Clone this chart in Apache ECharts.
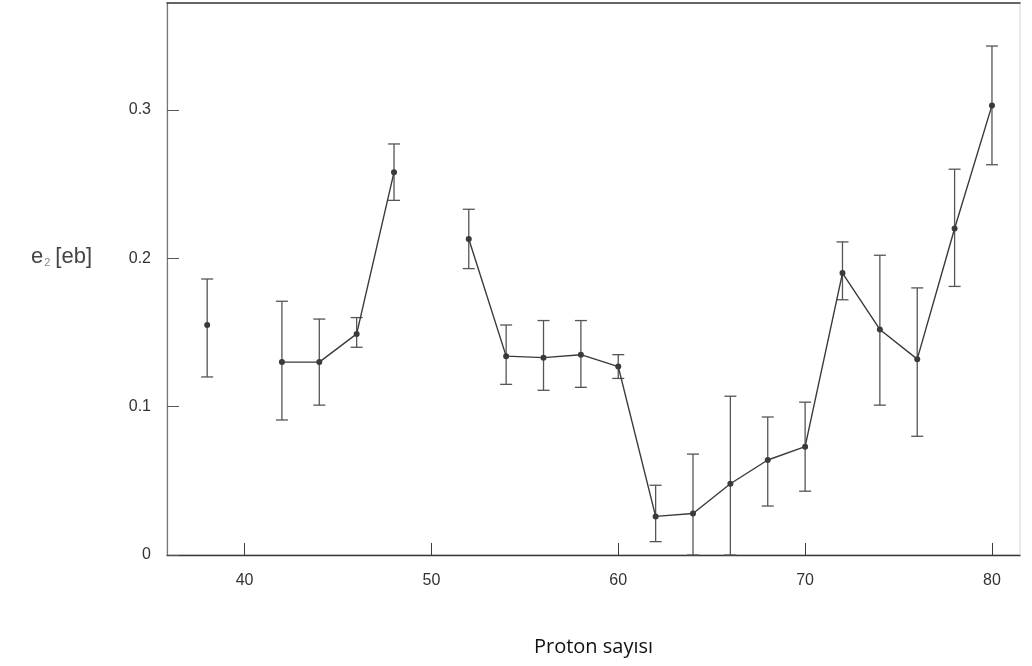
<!DOCTYPE html>
<html>

<head>
    <meta charset="utf-8">
    <script type="text/javascript" src="https://cdn.jsdelivr.net/npm/echarts@6/dist/echarts.min.js"></script>
    <title>e2 - Proton sayisi</title>
    <style>
        html, body { margin: 0; padding: 0; background: #fff; }
    </style>
</head>

<body>
    <div id="container" style="width:1032px;height:666px;"></div>
    <script type="text/javascript">
    // veriler
    var protons = [38, 42, 44, 46, 48, 52, 54, 56, 58, 60, 62, 64, 66, 68, 70, 72, 74, 76, 78, 80];
    var values  = [0.155, 0.130, 0.130, 0.149, 0.258, 0.213, 0.134, 0.133, 0.135, 0.127,
                   0.026, 0.028, 0.048, 0.064, 0.073, 0.190, 0.152, 0.132, 0.220, 0.303];
    var errHigh = [0.186, 0.171, 0.159, 0.160, 0.277, 0.233, 0.155, 0.158, 0.158, 0.135,
                   0.047, 0.068, 0.107, 0.093, 0.103, 0.211, 0.202, 0.180, 0.260, 0.343];
    var errLow  = [0.120, 0.091, 0.101, 0.140, 0.239, 0.193, 0.115, 0.111, 0.113, 0.119,
                   0.009, 0.000, 0.000, 0.033, 0.043, 0.172, 0.101, 0.080, 0.181, 0.263];
    var xTicks = [40, 50, 60, 70, 80];
    var yTicks = [0, 0.1, 0.2, 0.3];

    var myChart = echarts.init(document.getElementById('container'));

    // çizgi verisi: 2'den büyük boşluklarda çizgiyi kes
    var lineData = [];
    for (var i = 0; i < protons.length; i++) {
        if (i > 0 && protons[i] - protons[i - 1] > 2) {
            lineData.push([(protons[i] + protons[i - 1]) / 2, '-']);
        }
        lineData.push([protons[i], values[i]]);
    }
    var errData = protons.map(function (p, i) { return [p, errLow[i], errHigh[i]]; });

    var ink = '#3a3a3a';
    var font = 'Liberation Sans';

    var option = {
        animation: false,
        title: {
            text: '{e|e}{s|2} {e|[eb]}',
            left: 26,
            top: 240,
            textStyle: {
                rich: {
                    e: { fontFamily: font, fontSize: 22, fontWeight: 'normal', color: '#444' },
                    s: { fontFamily: font, fontSize: 11, fontWeight: 'normal', color: '#888', verticalAlign: 'bottom', padding: [12, 0, 0, 1] }
                }
            }
        },
        grid: {
            left: 167, right: 12, top: 3, bottom: 111,
            show: true, borderColor: '#d4d4d4', borderWidth: 1
        },
        xAxis: [{
            type: 'value',
            min: 35.85,
            max: 81.5,
            name: 'Proton sayısı',
            nameLocation: 'middle',
            nameGap: 82,
            nameTextStyle: { fontFamily: 'Open Sans', fontSize: 20, color: '#111' },
            axisLine: { lineStyle: { color: ink, width: 1.3 } },
            axisTick: { inside: true, length: 12, customValues: xTicks, lineStyle: { color: ink } },
            axisLabel: { customValues: xTicks, margin: 18, fontFamily: font, fontSize: 16, color: '#333' },
            splitLine: { show: false }
        }, {
            type: 'value',
            position: 'top',
            min: 35.85,
            max: 81.5,
            axisLine: { show: true, lineStyle: { color: ink, width: 1.5 } },
            axisTick: { show: false },
            axisLabel: { show: false },
            splitLine: { show: false }
        }],
        yAxis: {
            type: 'value',
            min: 0,
            max: 0.372,
            axisLine: { show: true, lineStyle: { color: '#777', width: 1.2 } },
            axisTick: { show: true, inside: true, length: 12, customValues: yTicks, lineStyle: { color: '#555' } },
            axisLabel: { customValues: yTicks, margin: 16, fontFamily: font, fontSize: 16, color: '#333' },
            splitLine: { show: false }
        },
        series: [{
            type: 'custom',
            data: errData,
            z: 2,
            renderItem: function (params, api) {
                var x = api.value(0);
                var lo = api.coord([x, api.value(1)]);
                var hi = api.coord([x, api.value(2)]);
                var w = 6;
                var style = { stroke: '#555', lineWidth: 1.3 };
                return {
                    type: 'group',
                    children: [
                        { type: 'line', shape: { x1: lo[0], y1: lo[1], x2: hi[0], y2: hi[1] }, style: style },
                        { type: 'line', shape: { x1: hi[0] - w, y1: hi[1], x2: hi[0] + w, y2: hi[1] }, style: style },
                        { type: 'line', shape: { x1: lo[0] - w, y1: lo[1], x2: lo[0] + w, y2: lo[1] }, style: style }
                    ]
                };
            }
        }, {
            type: 'line',
            data: lineData,
            z: 3,
            connectNulls: false,
            symbol: 'circle',
            symbolSize: 6,
            showSymbol: true,
            itemStyle: { color: '#3a3a3a' },
            lineStyle: { color: '#3a3a3a', width: 1.4 }
        }]
    };

    myChart.setOption(option);
    </script>
</body>

</html>
